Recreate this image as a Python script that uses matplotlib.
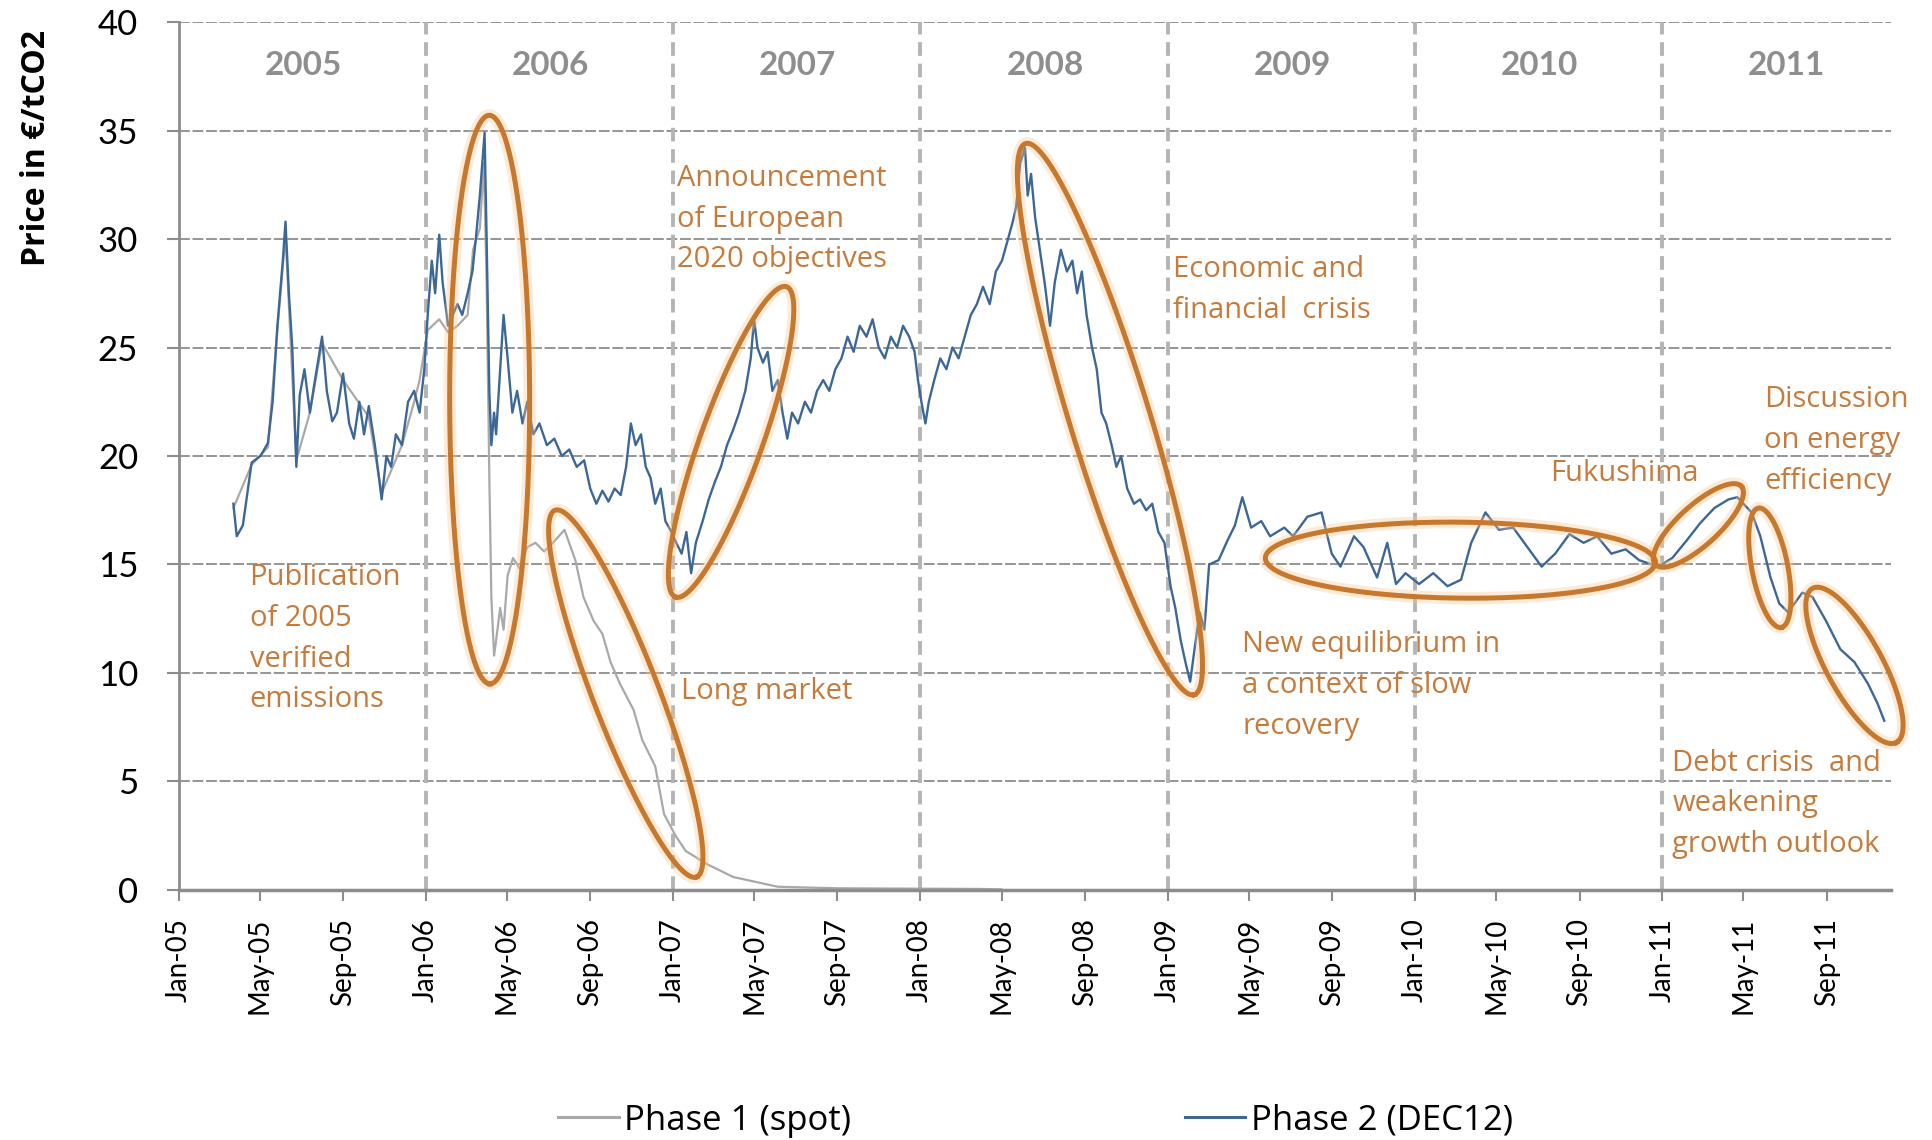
import numpy as np
import pandas as pd
import matplotlib
matplotlib.use("Agg")
import matplotlib.pyplot as plt
import matplotlib.dates as mdates
from matplotlib.lines import Line2D

# ── Data ──────────────────────────────────────────────────────────────────────
phase2_dates = [
    "2005-03-23", "2005-03-28", "2005-04-06", "2005-04-19", "2005-05-02", "2005-05-13",
    "2005-05-20", "2005-05-27", "2005-06-04", "2005-06-08", "2005-06-13", "2005-06-18",
    "2005-06-24", "2005-06-29", "2005-07-06", "2005-07-14", "2005-07-21", "2005-08-01",
    "2005-08-08", "2005-08-16", "2005-08-23", "2005-09-01", "2005-09-10", "2005-09-17",
    "2005-09-25", "2005-10-02", "2005-10-09", "2005-10-18", "2005-10-28", "2005-11-04",
    "2005-11-11", "2005-11-18", "2005-11-27", "2005-12-06", "2005-12-15", "2005-12-23",
    "2005-12-30", "2006-01-04", "2006-01-10", "2006-01-15", "2006-01-21", "2006-01-26",
    "2006-02-03", "2006-02-10", "2006-02-17", "2006-02-24", "2006-03-04", "2006-03-11",
    "2006-03-16", "2006-03-22", "2006-03-29", "2006-04-01", "2006-04-05", "2006-04-08",
    "2006-04-12", "2006-04-15", "2006-04-21", "2006-04-26", "2006-05-02", "2006-05-09",
    "2006-05-16", "2006-05-24", "2006-05-31", "2006-06-09", "2006-06-18", "2006-06-29",
    "2006-07-10", "2006-07-21", "2006-08-01", "2006-08-12", "2006-08-23", "2006-09-01",
    "2006-09-10", "2006-09-19", "2006-09-28", "2006-10-07", "2006-10-16", "2006-10-24",
    "2006-10-31", "2006-11-07", "2006-11-15", "2006-11-22", "2006-11-29", "2006-12-06",
    "2006-12-14", "2006-12-21", "2006-12-30", "2007-01-06", "2007-01-14", "2007-01-21",
    "2007-01-28", "2007-02-04", "2007-02-14", "2007-02-23", "2007-03-04", "2007-03-13",
    "2007-03-22", "2007-03-31", "2007-04-09", "2007-04-18", "2007-04-26", "2007-05-01",
    "2007-05-06", "2007-05-14", "2007-05-21", "2007-05-28", "2007-06-05", "2007-06-12",
    "2007-06-19", "2007-06-26", "2007-07-05", "2007-07-15", "2007-07-24", "2007-08-02",
    "2007-08-11", "2007-08-20", "2007-08-29", "2007-09-07", "2007-09-16", "2007-09-25",
    "2007-10-04", "2007-10-14", "2007-10-23", "2007-11-01", "2007-11-10", "2007-11-19",
    "2007-11-28", "2007-12-07", "2007-12-16", "2007-12-24", "2007-12-29", "2008-01-03",
    "2008-01-09", "2008-01-14", "2008-01-22", "2008-01-31", "2008-02-09", "2008-02-18",
    "2008-02-27", "2008-03-07", "2008-03-16", "2008-03-25", "2008-04-03", "2008-04-13",
    "2008-04-22", "2008-05-01", "2008-05-10", "2008-05-17", "2008-05-22", "2008-05-28",
    "2008-06-04", "2008-06-08", "2008-06-13", "2008-06-19", "2008-06-26", "2008-07-03",
    "2008-07-11", "2008-07-18", "2008-07-27", "2008-08-05", "2008-08-13", "2008-08-20",
    "2008-08-27", "2008-09-03", "2008-09-11", "2008-09-18", "2008-09-25", "2008-10-02",
    "2008-10-10", "2008-10-17", "2008-10-24", "2008-11-02", "2008-11-12", "2008-11-21",
    "2008-11-30", "2008-12-09", "2008-12-18", "2008-12-27", "2009-01-05", "2009-01-12",
    "2009-01-20", "2009-01-27", "2009-02-03", "2009-02-09", "2009-02-17", "2009-02-24",
    "2009-03-03", "2009-03-17", "2009-03-30", "2009-04-10", "2009-04-21", "2009-05-04",
    "2009-05-19", "2009-06-01", "2009-06-22", "2009-07-05", "2009-07-26", "2009-08-16",
    "2009-08-31", "2009-09-13", "2009-10-03", "2009-10-17", "2009-11-06", "2009-11-21",
    "2009-12-04", "2009-12-18", "2010-01-07", "2010-01-28", "2010-02-18", "2010-03-10",
    "2010-03-25", "2010-04-15", "2010-05-05", "2010-05-26", "2010-06-16", "2010-07-07",
    "2010-07-27", "2010-08-17", "2010-09-07", "2010-09-27", "2010-10-18", "2010-11-08",
    "2010-11-28", "2010-12-26", "2011-01-16", "2011-02-06", "2011-02-26", "2011-03-19",
    "2011-04-09", "2011-04-22", "2011-05-13", "2011-05-26", "2011-06-10", "2011-06-23",
    "2011-07-06", "2011-07-27", "2011-08-11", "2011-08-31", "2011-09-21", "2011-10-12",
    "2011-11-01", "2011-11-15", "2011-11-25",
]
phase2_values = [
    17.8, 16.3, 16.8, 19.7, 20.0, 20.6,
    22.5, 26.0, 29.0, 30.8, 27.5, 25.0,
    19.5, 22.8, 24.0, 22.0, 23.4, 25.5,
    23.0, 21.6, 22.0, 23.8, 21.5, 20.8,
    22.5, 21.0, 22.3, 20.5, 18.0, 20.0,
    19.5, 21.0, 20.5, 22.5, 23.0, 22.0,
    24.0, 26.5, 29.0, 27.5, 30.2, 28.0,
    26.0, 26.5, 27.0, 26.5, 27.5, 28.5,
    30.0, 32.0, 34.9, 30.0, 23.0, 20.5,
    22.0, 21.0, 24.0, 26.5, 24.5, 22.0,
    23.0, 21.5, 22.5, 21.0, 21.5, 20.5,
    20.8, 20.0, 20.3, 19.5, 19.8, 18.5,
    17.8, 18.4, 17.9, 18.5, 18.2, 19.5,
    21.5, 20.5, 21.0, 19.5, 19.0, 17.8,
    18.5, 17.0, 16.5, 16.0, 15.5, 16.5,
    14.6, 16.0, 17.0, 18.0, 18.8, 19.5,
    20.5, 21.2, 22.0, 23.0, 24.5, 26.3,
    25.0, 24.3, 24.8, 23.0, 23.5, 22.0,
    20.8, 22.0, 21.5, 22.5, 22.0, 23.0,
    23.5, 23.0, 24.0, 24.5, 25.5, 24.8,
    26.0, 25.5, 26.3, 25.0, 24.5, 25.5,
    25.0, 26.0, 25.5, 24.8, 23.5, 22.5,
    21.5, 22.5, 23.5, 24.5, 24.0, 25.0,
    24.5, 25.5, 26.5, 27.0, 27.8, 27.0,
    28.5, 29.0, 30.0, 30.8, 31.5, 33.5,
    34.2, 32.0, 33.0, 31.0, 29.5, 28.0,
    26.0, 28.0, 29.5, 28.5, 29.0, 27.5,
    28.5, 26.5, 25.0, 24.0, 22.0, 21.5,
    20.5, 19.5, 20.0, 18.5, 17.8, 18.0,
    17.5, 17.8, 16.5, 16.0, 14.0, 13.0,
    11.5, 10.5, 9.6, 11.0, 12.8, 12.0,
    15.0, 15.2, 16.1, 16.8, 18.1, 16.7,
    17.0, 16.3, 16.7, 16.3, 17.2, 17.4,
    15.5, 14.9, 16.3, 15.8, 14.4, 16.0,
    14.1, 14.6, 14.1, 14.6, 14.0, 14.3,
    16.0, 17.4, 16.6, 16.7, 15.8, 14.9,
    15.5, 16.4, 16.0, 16.3, 15.5, 15.7,
    15.2, 14.9, 15.3, 16.1, 16.9, 17.6,
    18.0, 18.1, 17.4, 16.3, 14.4, 13.2,
    12.8, 13.7, 13.5, 12.4, 11.1, 10.5,
    9.5, 8.6, 7.8,
]

phase1_dates = [
    "2005-03-23", "2005-04-19", "2005-05-13", "2005-05-27", "2005-06-08", "2005-06-24",
    "2005-07-14", "2005-08-01", "2005-09-01", "2005-10-09", "2005-10-28", "2005-11-27",
    "2005-12-15", "2005-12-23", "2006-01-04", "2006-01-21", "2006-02-03", "2006-02-17",
    "2006-03-04", "2006-03-12", "2006-03-22", "2006-03-28", "2006-04-01", "2006-04-05",
    "2006-04-08", "2006-04-12", "2006-04-15", "2006-04-21", "2006-04-26", "2006-05-02",
    "2006-05-10", "2006-05-20", "2006-05-31", "2006-06-12", "2006-06-25", "2006-07-08",
    "2006-07-25", "2006-08-10", "2006-08-22", "2006-09-06", "2006-09-19", "2006-10-01",
    "2006-10-15", "2006-11-04", "2006-11-17", "2006-12-06", "2006-12-19", "2007-01-05",
    "2007-01-20", "2007-02-20", "2007-03-31", "2007-06-05", "2007-09-01", "2008-01-01",
    "2008-03-27", "2008-04-30",
]
phase1_values = [
    17.6, 19.6, 20.4, 25.8, 30.2, 19.8,
    22.0, 25.2, 23.5, 21.8, 18.3, 20.5,
    22.5, 23.5, 25.8, 26.3, 25.7, 26.0,
    26.5, 29.5, 30.5, 33.5, 28.0, 19.0,
    13.5, 10.8, 11.5, 13.0, 12.0, 14.5,
    15.3, 14.8, 15.8, 16.0, 15.6, 16.0,
    16.6, 15.2, 13.5, 12.4, 11.8, 10.5,
    9.5, 8.3, 6.9, 5.7, 3.5, 2.5,
    1.8, 1.2, 0.6, 0.15, 0.08, 0.06,
    0.05, 0.03,
]

years = ["2005", "2006", "2007", "2008", "2009", "2010", "2011"]
year_breaks = ["2006-01-01", "2007-01-01", "2008-01-01", "2009-01-01",
               "2010-01-01", "2011-01-01"]

# annotation text: (left date, value of first line, lines)
notes = [
    ("2005-04-16", 14.4, ["Publication", "of 2005", "verified", "emissions"]),
    ("2007-01-13", 9.15, ["Long market"]),
    ("2007-01-07", 32.8, ["Announcement", "of European", "2020 objectives"]),
    ("2009-01-09", 28.6, ["Economic and", "financial  crisis"]),
    ("2009-04-21", 11.3, ["New equilibrium in", "a context of slow", "recovery"]),
    ("2010-07-20", 19.2, ["Fukushima"]),
    ("2011-06-01", 22.6, ["Discussion", "on energy", "efficiency"]),
    ("2011-01-16", 5.85, ["Debt crisis  and", "weakening", "growth outlook"]),
]

# highlight ellipses: (end A date, value, end B date, value, half-width px)
ellipses = [
    ("2006-04-05", 35.7, "2006-04-06", 9.5, 40),
    ("2006-07-11", 17.5, "2007-02-05", 0.6, 33),
    ("2007-06-18", 27.8, "2007-01-05", 13.5, 31),
    ("2008-06-05", 34.4, "2009-02-09", 9.0, 40),
    ("2009-05-25", 15.3, "2010-12-22", 15.1, 38),
    ("2010-12-22", 15.0, "2011-04-28", 18.6, 20),
    ("2011-05-23", 17.6, "2011-06-26", 12.1, 18),
    ("2011-08-11", 13.9, "2011-12-13", 6.8, 28),
]

# ── Style ─────────────────────────────────────────────────────────────────────
blue = "#3d6796"
grey = "#a9a9a9"
orange_line = "#c8782c"
orange_text = "#c67b3c"
axis_grey = "#8c8c8c"
font = ["Lato", "DejaVu Sans"]
wide_font = ["Open Sans", "DejaVu Sans"]

plt.rcParams.update({
    "font.family": font,
    "axes.facecolor": "white",
    "figure.facecolor": "white",
})

fig = plt.figure(figsize=(19.32, 11.4), dpi=100)
ax = fig.add_axes([0.0924, 0.2193, 0.9788 - 0.0924, 0.9807 - 0.2193])

x_lo, x_hi = pd.Timestamp("2005-01-01"), pd.Timestamp("2011-12-05")
ax.set_xlim(x_lo, x_hi)
ax.set_ylim(0, 40)

# grid
ax.set_yticks(np.arange(0, 41, 5))
for v in np.arange(5, 41, 5):
    ax.axhline(v, color=axis_grey, lw=1.3, ls=(0, (6, 1.5)), zorder=0)

# year separators + labels
for yb in year_breaks:
    ax.plot([pd.Timestamp(yb)] * 2, [0, 40], color="#b4b4b4", lw=2.8,
            ls=(0, (3.5, 2)), zorder=1)
for yr in years:
    ax.text(pd.Timestamp(f"{yr}-07-04"), 38.0, yr, ha="center", va="center",
            fontsize=24, fontweight="bold", color="#8e8e8e")

# series
ax.plot(pd.to_datetime(phase1_dates), phase1_values, color=grey, lw=1.6, zorder=3)
ax.plot(pd.to_datetime(phase2_dates), phase2_values, color=blue, lw=1.7, zorder=4)

# axes look
ax.spines[["top", "right"]].set_visible(False)
ax.spines["left"].set_color(axis_grey)
ax.spines["left"].set_linewidth(2)
ax.spines["bottom"].set_color(axis_grey)
ax.spines["bottom"].set_linewidth(2.5)
ax.spines["bottom"].set_zorder(5)

month_ticks = pd.date_range("2005-01-01", "2011-09-01", freq="4MS")
ax.set_xticks(month_ticks)
ax.set_xticklabels([d.strftime("%b-%y") for d in month_ticks], rotation=90,
                   fontsize=20)
ax.tick_params(axis="x", length=8, width=1.5, color=axis_grey, pad=12)
ax.tick_params(axis="y", length=9, width=1.5, color=axis_grey, pad=20,
               labelsize=25)

fig.text(0.019, 0.87, "Price in €/tCO2", rotation=90, ha="center", va="center",
         fontsize=23, fontweight="bold", family=wide_font)

# annotations
step = 1.88
for d, v, lines in notes:
    for i, line in enumerate(lines):
        ax.text(pd.Timestamp(d), v - i * step, line, ha="left", va="center",
                fontsize=21, color=orange_text, zorder=6, family=wide_font)


def draw_ellipse(ax, d0, v0, d1, v1, half_w):
    p0 = ax.transData.transform((mdates.date2num(pd.Timestamp(d0)), v0))
    p1 = ax.transData.transform((mdates.date2num(pd.Timestamp(d1)), v1))
    c = (p0 + p1) / 2
    vec = p1 - p0
    a = np.hypot(*vec) / 2
    u = vec / (2 * a)
    n = np.array([-u[1], u[0]])
    t = np.linspace(0, 2 * np.pi, 300)
    pts = c + np.outer(a * np.cos(t), u) + np.outer(half_w * np.sin(t), n)
    data = ax.transData.inverted().transform(pts)
    ax.plot(data[:, 0], data[:, 1], color="#f6c890", lw=9, alpha=0.35,
            zorder=6, clip_on=False, solid_capstyle="round")
    ax.plot(data[:, 0], data[:, 1], color=orange_line, lw=3.6, zorder=7,
            clip_on=False)


for e in ellipses:
    draw_ellipse(ax, *e)

# legend
handles = [Line2D([], [], color=grey, lw=2.2), Line2D([], [], color=blue, lw=2.2)]
fig.legend(handles, ["Phase 1 (spot)", "Phase 2 (DEC12)"], loc="center",
           bbox_to_anchor=(0.536, 0.017), ncol=2, frameon=False,
           prop={"family": wide_font, "size": 25},
           handlelength=1.75, handletextpad=0.15, columnspacing=9.6)

fig.savefig("out.png", dpi=100)
